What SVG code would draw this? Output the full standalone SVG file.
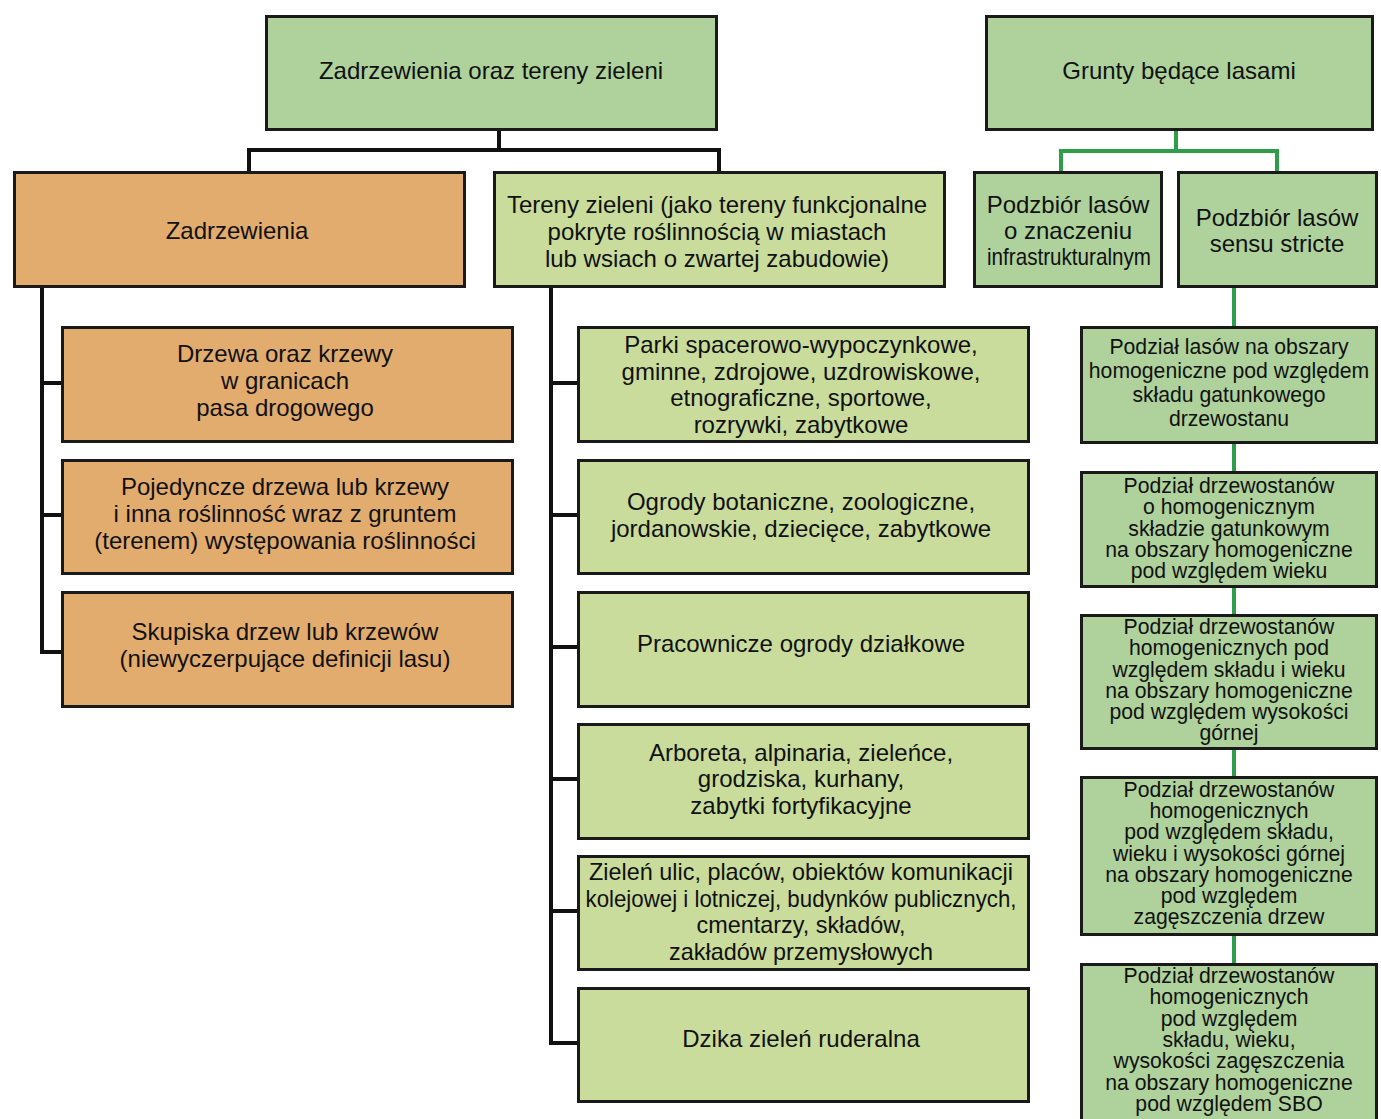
<svg xmlns="http://www.w3.org/2000/svg" width="1381" height="1119" viewBox="0 0 1381 1119">
<style>
.box{stroke:#1a1a1a;stroke-width:3}
.or{fill:#E2AC6E}
.lg{fill:#C9DC9C}
.mg{fill:#AFD19B}
text{font-family:"Liberation Sans",Arial,sans-serif;font-size:24px;fill:#111;text-anchor:middle}
.s{font-size:21.2px}
.blk{stroke:#111;stroke-width:4;fill:none}
.grn{stroke:#2E9E4A;stroke-width:4;fill:none}
</style>
<rect width="1381" height="1119" fill="#fff"/>
<g id="connectors">
<path class="blk" d="M499,131V150M249,150H719M249,148V171M719,148V171"/>
<path class="blk" d="M42,288V652M40,652H61M40,383H61M40,515H61"/>
<path class="blk" d="M551,288V1045M549,1043H577M549,383H577M549,515H577M549,647H577M549,779H577M549,911H577"/>
<path class="grn" d="M1176,131V151M1061,151H1277M1061,149V171M1277,149V171"/>
<path class="grn" d="M1234,288V963"/>
</g>
<g id="n-top1"><rect class="box mg" x="266.5" y="16.5" width="450" height="113"/><text x="491" y="79">Zadrzewienia oraz tereny zieleni</text></g>
<g id="n-top2"><rect class="box mg" x="986.5" y="16.5" width="386" height="113"/><text x="1179" y="79">Grunty będące lasami</text></g>
<g id="n-zad"><rect class="box or" x="14.5" y="172.5" width="450" height="114"/><text x="237" y="239">Zadrzewienia</text></g>
<g id="n-ter"><rect class="box lg" x="494.5" y="172.5" width="450" height="114"/><text x="717" y="213">Tereny zieleni (jako tereny funkcjonalne</text><text x="717" y="240">pokryte roślinnością w miastach</text><text x="717" y="267">lub wsiach o zwartej zabudowie)</text></g>
<g id="n-pz1"><rect class="box mg" x="974.5" y="172.5" width="187" height="114"/><text x="1068" y="213">Podzbiór lasów</text><text x="1068" y="239">o znaczeniu</text><text x="1069" y="265" textLength="164" lengthAdjust="spacingAndGlyphs">infrastrukturalnym</text></g>
<g id="n-pz2"><rect class="box mg" x="1178.5" y="172.5" width="198" height="114"/><text x="1277" y="226">Podzbiór lasów</text><text x="1277" y="252">sensu stricte</text></g>
<g id="n-L1"><rect class="box or" x="62.5" y="327.5" width="450" height="114"/><text x="285" y="362">Drzewa oraz krzewy</text><text x="285" y="389">w granicach</text><text x="285" y="416">pasa drogowego</text></g>
<g id="n-L2"><rect class="box or" x="62.5" y="460.5" width="450" height="113"/><text x="285" y="495">Pojedyncze drzewa lub krzewy</text><text x="285" y="522">i inna roślinność wraz z gruntem</text><text x="285" y="549">(terenem) występowania roślinności</text></g>
<g id="n-L3"><rect class="box or" x="62.5" y="592.5" width="450" height="114"/><text x="285" y="640">Skupiska drzew lub krzewów</text><text x="285" y="667">(niewyczerpujące definicji lasu)</text></g>
<g id="n-M1"><rect class="box lg" x="578.5" y="327.5" width="450" height="114"/><text x="801" y="353">Parki spacerowo-wypoczynkowe,</text><text x="801" y="380">gminne, zdrojowe, uzdrowiskowe,</text><text x="801" y="406">etnograficzne, sportowe,</text><text x="801" y="433">rozrywki, zabytkowe</text></g>
<g id="n-M2"><rect class="box lg" x="578.5" y="460.5" width="450" height="113"/><text x="801" y="510">Ogrody botaniczne, zoologiczne,</text><text x="801" y="537">jordanowskie, dziecięce, zabytkowe</text></g>
<g id="n-M3"><rect class="box lg" x="578.5" y="592.5" width="450" height="114"/><text x="801" y="652">Pracownicze ogrody działkowe</text></g>
<g id="n-M4"><rect class="box lg" x="578.5" y="724.5" width="450" height="114"/><text x="801" y="761">Arboreta, alpinaria, zieleńce,</text><text x="801" y="787">grodziska, kurhany,</text><text x="801" y="814">zabytki fortyfikacyjne</text></g>
<g id="n-M5"><rect class="box lg" x="578.5" y="856.5" width="450" height="113"/><text x="801" y="880" style="font-size:23.4px">Zieleń ulic, placów, obiektów komunikacji</text><text x="801" y="907" textLength="431" lengthAdjust="spacingAndGlyphs" style="font-size:23.4px">kolejowej i lotniczej, budynków publicznych,</text><text x="801" y="933" style="font-size:23.4px">cmentarzy, składów,</text><text x="801" y="960" style="font-size:23.4px">zakładów przemysłowych</text></g>
<g id="n-M6"><rect class="box lg" x="578.5" y="988.5" width="450" height="113"/><text x="801" y="1047">Dzika zieleń ruderalna</text></g>
<g id="n-R1"><rect class="box mg" x="1081.5" y="327.5" width="295" height="115"/><text class="s" x="1229" y="354">Podział lasów na obszary</text><text class="s" x="1229" y="378">homogeniczne pod względem</text><text class="s" x="1229" y="402">składu gatunkowego</text><text class="s" x="1229" y="426">drzewostanu</text></g>
<g id="n-R2"><rect class="box mg" x="1081.5" y="472.5" width="295" height="114"/><text class="s" x="1229" y="493">Podział drzewostanów</text><text class="s" x="1229" y="514">o homogenicznym</text><text class="s" x="1229" y="536">składzie gatunkowym</text><text class="s" x="1229" y="557">na obszary homogeniczne</text><text class="s" x="1229" y="578">pod względem wieku</text></g>
<g id="n-R3"><rect class="box mg" x="1081.5" y="615.5" width="295" height="133"/><text class="s" x="1229" y="634">Podział drzewostanów</text><text class="s" x="1229" y="655">homogenicznych pod</text><text class="s" x="1229" y="677">względem składu i wieku</text><text class="s" x="1229" y="698">na obszary homogeniczne</text><text class="s" x="1229" y="719">pod względem wysokości</text><text class="s" x="1229" y="740">górnej</text></g>
<g id="n-R4"><rect class="box mg" x="1081.5" y="777.5" width="295" height="157"/><text class="s" x="1229" y="797">Podział drzewostanów</text><text class="s" x="1229" y="818">homogenicznych</text><text class="s" x="1229" y="839">pod względem składu,</text><text class="s" x="1229" y="861">wieku i wysokości górnej</text><text class="s" x="1229" y="882">na obszary homogeniczne</text><text class="s" x="1229" y="903">pod względem</text><text class="s" x="1229" y="924">zagęszczenia drzew</text></g>
<g id="n-R5"><rect class="box mg" x="1081.5" y="964.5" width="295" height="170"/><text class="s" x="1229" y="983">Podział drzewostanów</text><text class="s" x="1229" y="1004">homogenicznych</text><text class="s" x="1229" y="1026">pod względem</text><text class="s" x="1229" y="1047">składu, wieku,</text><text class="s" x="1229" y="1068">wysokości zagęszczenia</text><text class="s" x="1229" y="1090">na obszary homogeniczne</text><text class="s" x="1229" y="1111">pod względem SBO</text></g>
</svg>
